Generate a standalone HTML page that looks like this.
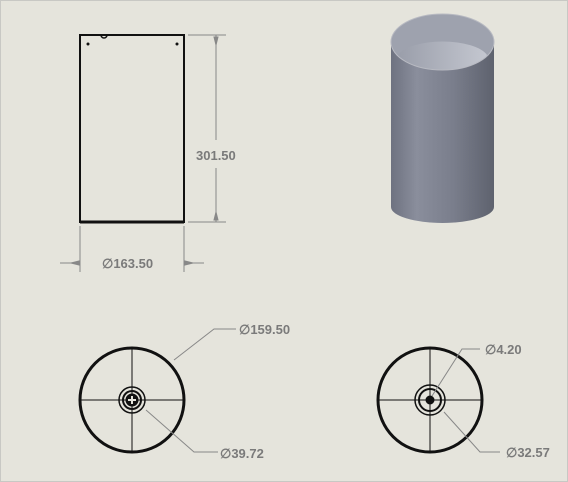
<!DOCTYPE html>
<html><head><meta charset="utf-8"><style>
html,body{margin:0;padding:0;background:#e5e4dc;}
svg{display:block;}
text{font-family:"Liberation Sans",sans-serif;font-weight:bold;fill:#7a7a7a;font-size:13px;}
</style></head><body>
<svg width="568" height="482" viewBox="0 0 568 482">
<defs>
<linearGradient id="cyl" x1="0" x2="1" y1="0" y2="0">
<stop offset="0" stop-color="#6e7280"/><stop offset="0.25" stop-color="#8a8e9c"/><stop offset="0.6" stop-color="#7a7e8c"/><stop offset="1" stop-color="#5e626e"/>
</linearGradient>
<linearGradient id="inner" x1="0" x2="1"><stop offset="0" stop-color="#9a9eaa"/><stop offset="1" stop-color="#c4c7d0"/></linearGradient>
</defs>
<rect x="0.5" y="0.5" width="567" height="481" fill="#e5e4dc" stroke="#c8c8c4"/>

<g>
<rect x="80" y="35" width="104" height="187" fill="none" stroke="#111" stroke-width="2"/>
<line x1="80" y1="222" x2="184" y2="222" stroke="#111" stroke-width="3"/>
<circle cx="88" cy="44" r="1.5" fill="#111"/><circle cx="177" cy="44" r="1.5" fill="#111"/>
<path d="M101 35 a3 3 0 0 0 6 0" fill="none" stroke="#111" stroke-width="1.5"/>
</g>
<g stroke="#888" stroke-width="1">
<line x1="188" y1="35" x2="226" y2="35"/><line x1="188" y1="222" x2="226" y2="222"/>
<line x1="216" y1="35" x2="216" y2="140"/><line x1="216" y1="168" x2="216" y2="222"/>
<path d="M214 37 l2 8 l2 -8z M214 220 l2 -8 l2 8z" fill="#888"/>
</g>
<text x="196" y="160">301.50</text>
<g stroke="#888" stroke-width="1">
<line x1="80" y1="226" x2="80" y2="272"/><line x1="184" y1="226" x2="184" y2="272"/>
<line x1="60" y1="263" x2="80" y2="263"/><line x1="184" y1="263" x2="204" y2="263"/>
<path d="M79 261 l-8 2 l8 2z M185 261 l8 2 l-8 2z" fill="#888"/>
</g>
<text x="102" y="268">∅163.50</text>

<g>
<path d="M391 42 L391 207 A51.5 16 0 0 0 494 207 L494 42 Z" fill="url(#cyl)"/>
<ellipse cx="442.5" cy="42" rx="51.5" ry="28" fill="#9ea2ae"/>
<path d="M398 55 A46 20 0 0 0 487 55 A46 18 0 0 0 398 55Z" fill="url(#inner)"/>
<ellipse cx="442.5" cy="42" rx="51.5" ry="28" fill="none" stroke="#b8bac2" stroke-width="1"/>
</g>

<g stroke="#111" fill="none">
<circle cx="132" cy="400" r="52" stroke-width="3"/>
<line x1="80" y1="400" x2="184" y2="400" stroke-width="1"/>
<line x1="132" y1="348" x2="132" y2="452" stroke-width="1"/>
<circle cx="132" cy="400" r="13" stroke-width="1.5"/>
<circle cx="132" cy="400" r="9" stroke-width="2"/>
<circle cx="132" cy="400" r="6" fill="#111"/>
<path d="M128 400 h8 M132 396 v8" stroke="#e5e4dc" stroke-width="2"/>
</g>
<g stroke="#888" fill="none">
<polyline points="174,360 214,329 236,329"/>
<polyline points="146,410 194,452 218,452"/>
</g>
<text x="239" y="334">∅159.50</text>
<text x="220" y="458">∅39.72</text>

<g stroke="#111" fill="none">
<circle cx="430" cy="400" r="52" stroke-width="3"/>
<line x1="378" y1="400" x2="482" y2="400" stroke-width="1"/>
<line x1="430" y1="348" x2="430" y2="452" stroke-width="1"/>
<circle cx="430" cy="400" r="15" stroke-width="1.5"/>
<circle cx="430" cy="400" r="11" stroke-width="2"/>
<circle cx="430" cy="400" r="4" fill="#111"/>
</g>
<g stroke="#888" fill="none">
<polyline points="432,396 462,349 480,349"/>
<polyline points="444,412 480,452 500,452"/>
</g>
<text x="485" y="354">∅4.20</text>
<text x="506" y="457">∅32.57</text>
</svg>
</body></html>
